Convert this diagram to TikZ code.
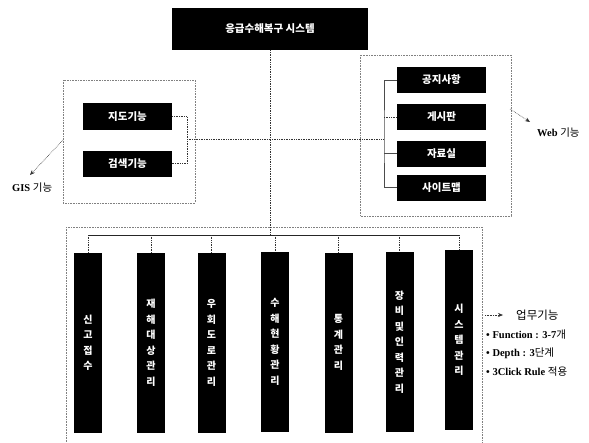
\documentclass[tikz,border=0pt]{standalone}
\usepackage{fontspec}
\setmainfont{Liberation Serif}
\newfontfamily\cjk{Noto Sans CJK KR}
\usetikzlibrary{arrows.meta}
\begin{document}
\begin{tikzpicture}[x=1pt,y=-1pt,
  blk/.style={fill=black,text=white,inner sep=0pt,font=\cjk\bfseries\fontsize{10.5}{12}\selectfont},
  vblk/.style={blk,minimum width=28pt,minimum height=180pt,align=center,font=\cjk\bfseries\fontsize{10}{15.5}\selectfont},
  grp/.style={draw=gray,densely dotted,line width=0.6pt},
  dl/.style={draw=black!80,densely dotted,line width=0.7pt},
  sl/.style={draw=black!70,line width=0.7pt},
  arr/.style={draw=black!80,densely dotted,line width=0.6pt,-{Stealth[length=5pt,width=4pt]}},
  lbl/.style={inner sep=0pt,font=\fontsize{10.5}{12}\selectfont\bfseries}]
\useasboundingbox (0,0) rectangle (589,442);
\fill[white] (0,0) rectangle (589,442);
% groups
\draw[grp] (63,80) rectangle (195,203);
\draw[grp] (360,55) rectangle (511,216);
\draw[grp] (66,227) rectangle (482,445);
% top
\node[blk,minimum width=196pt,minimum height=42pt] (top) at (270,29) {응급수해복구 시스템};
% GIS
\node[blk,minimum width=89pt,minimum height=27pt] (map) at (127.5,116.5) {지도기능};
\node[blk,minimum width=89pt,minimum height=26pt] (srch) at (127.5,163.5) {검색기능};
% Web
\node[blk,minimum width=89pt,minimum height=26pt] (w1) at (441.5,80) {공지사항};
\node[blk,minimum width=89pt,minimum height=26pt] (w2) at (441.5,117) {게시판};
\node[blk,minimum width=89pt,minimum height=26pt] (w3) at (441.5,153.5) {자료실};
\node[blk,minimum width=89pt,minimum height=26pt] (w4) at (441.5,187.5) {사이트맵};
% vertical boxes
\node[vblk] (b1) at (88,343) {신\\고\\접\\수};
\node[vblk] (b2) at (151,343) {재\\해\\대\\상\\관\\리};
\node[vblk] (b3) at (211.5,343) {우\\회\\도\\로\\관\\리};
\node[vblk] (b4) at (275,342) {수\\해\\현\\황\\관\\리};
\node[vblk] (b5) at (338.5,342.5) {통\\계\\관\\리};
\node[vblk] (b6) at (399.5,342) {장\\비\\및\\인\\력\\관\\리};
\node[vblk] (b7) at (459,340) {시\\스\\템\\관\\리};
% coordinates
\coordinate (gj) at (187,139);
\coordinate (wj) at (384,139);
\coordinate (bus) at (top.south |- 0,235);
\coordinate (busl) at (b1.north |- bus);
\coordinate (busr) at (b7.north |- bus);
% connectors
\draw[dl] (top.south) -- (bus);
\draw[dl] (gj) -- (wj);
\draw[dl] (map.east) -| (gj) |- (srch.east);
\draw[sl] (w1.west) -| (wj) |- (w4.west);
\draw[dl] (wj |- w2.west) -- (w2.west);
\draw[sl] (wj |- w3.west) -- (w3.west);
\draw[line width=1pt,black!85] (busl) -- (busr);
\foreach \b in {b1,b2,b3,b4,b5,b6,b7} \draw[dl] (\b.north |- bus) -- (\b.north);
% labels and arrows
\coordinate (ga) at (63,140);
\node[lbl,anchor=west] (gisl) at (12,188) {GIS {\cjk\mdseries 기능}};
\draw[arr] (ga) -- (30,175);
\coordinate (wa) at (510,109);
\node[lbl,anchor=west] (webl) at (537,133) {Web {\cjk\mdseries 기능}};
\draw[arr] (wa) -- (530,122);
\coordinate (ua) at (485,315);
\draw[arr] (ua) -- (503,315);
\node[inner sep=0pt,anchor=west,font=\cjk\fontsize{11.5}{13}\selectfont] (work) at (516,315) {업무기능};
\node[lbl,anchor=west] (f1) at (486,335) {• Function : 3-7{\cjk\mdseries 개}};
\node[lbl,anchor=west] (f2) at (486,353) {• Depth : 3{\cjk\mdseries 단계}};
\node[lbl,anchor=west] (f3) at (486,372) {• 3Click Rule {\cjk\mdseries 적용}};
\end{tikzpicture}
\end{document}
